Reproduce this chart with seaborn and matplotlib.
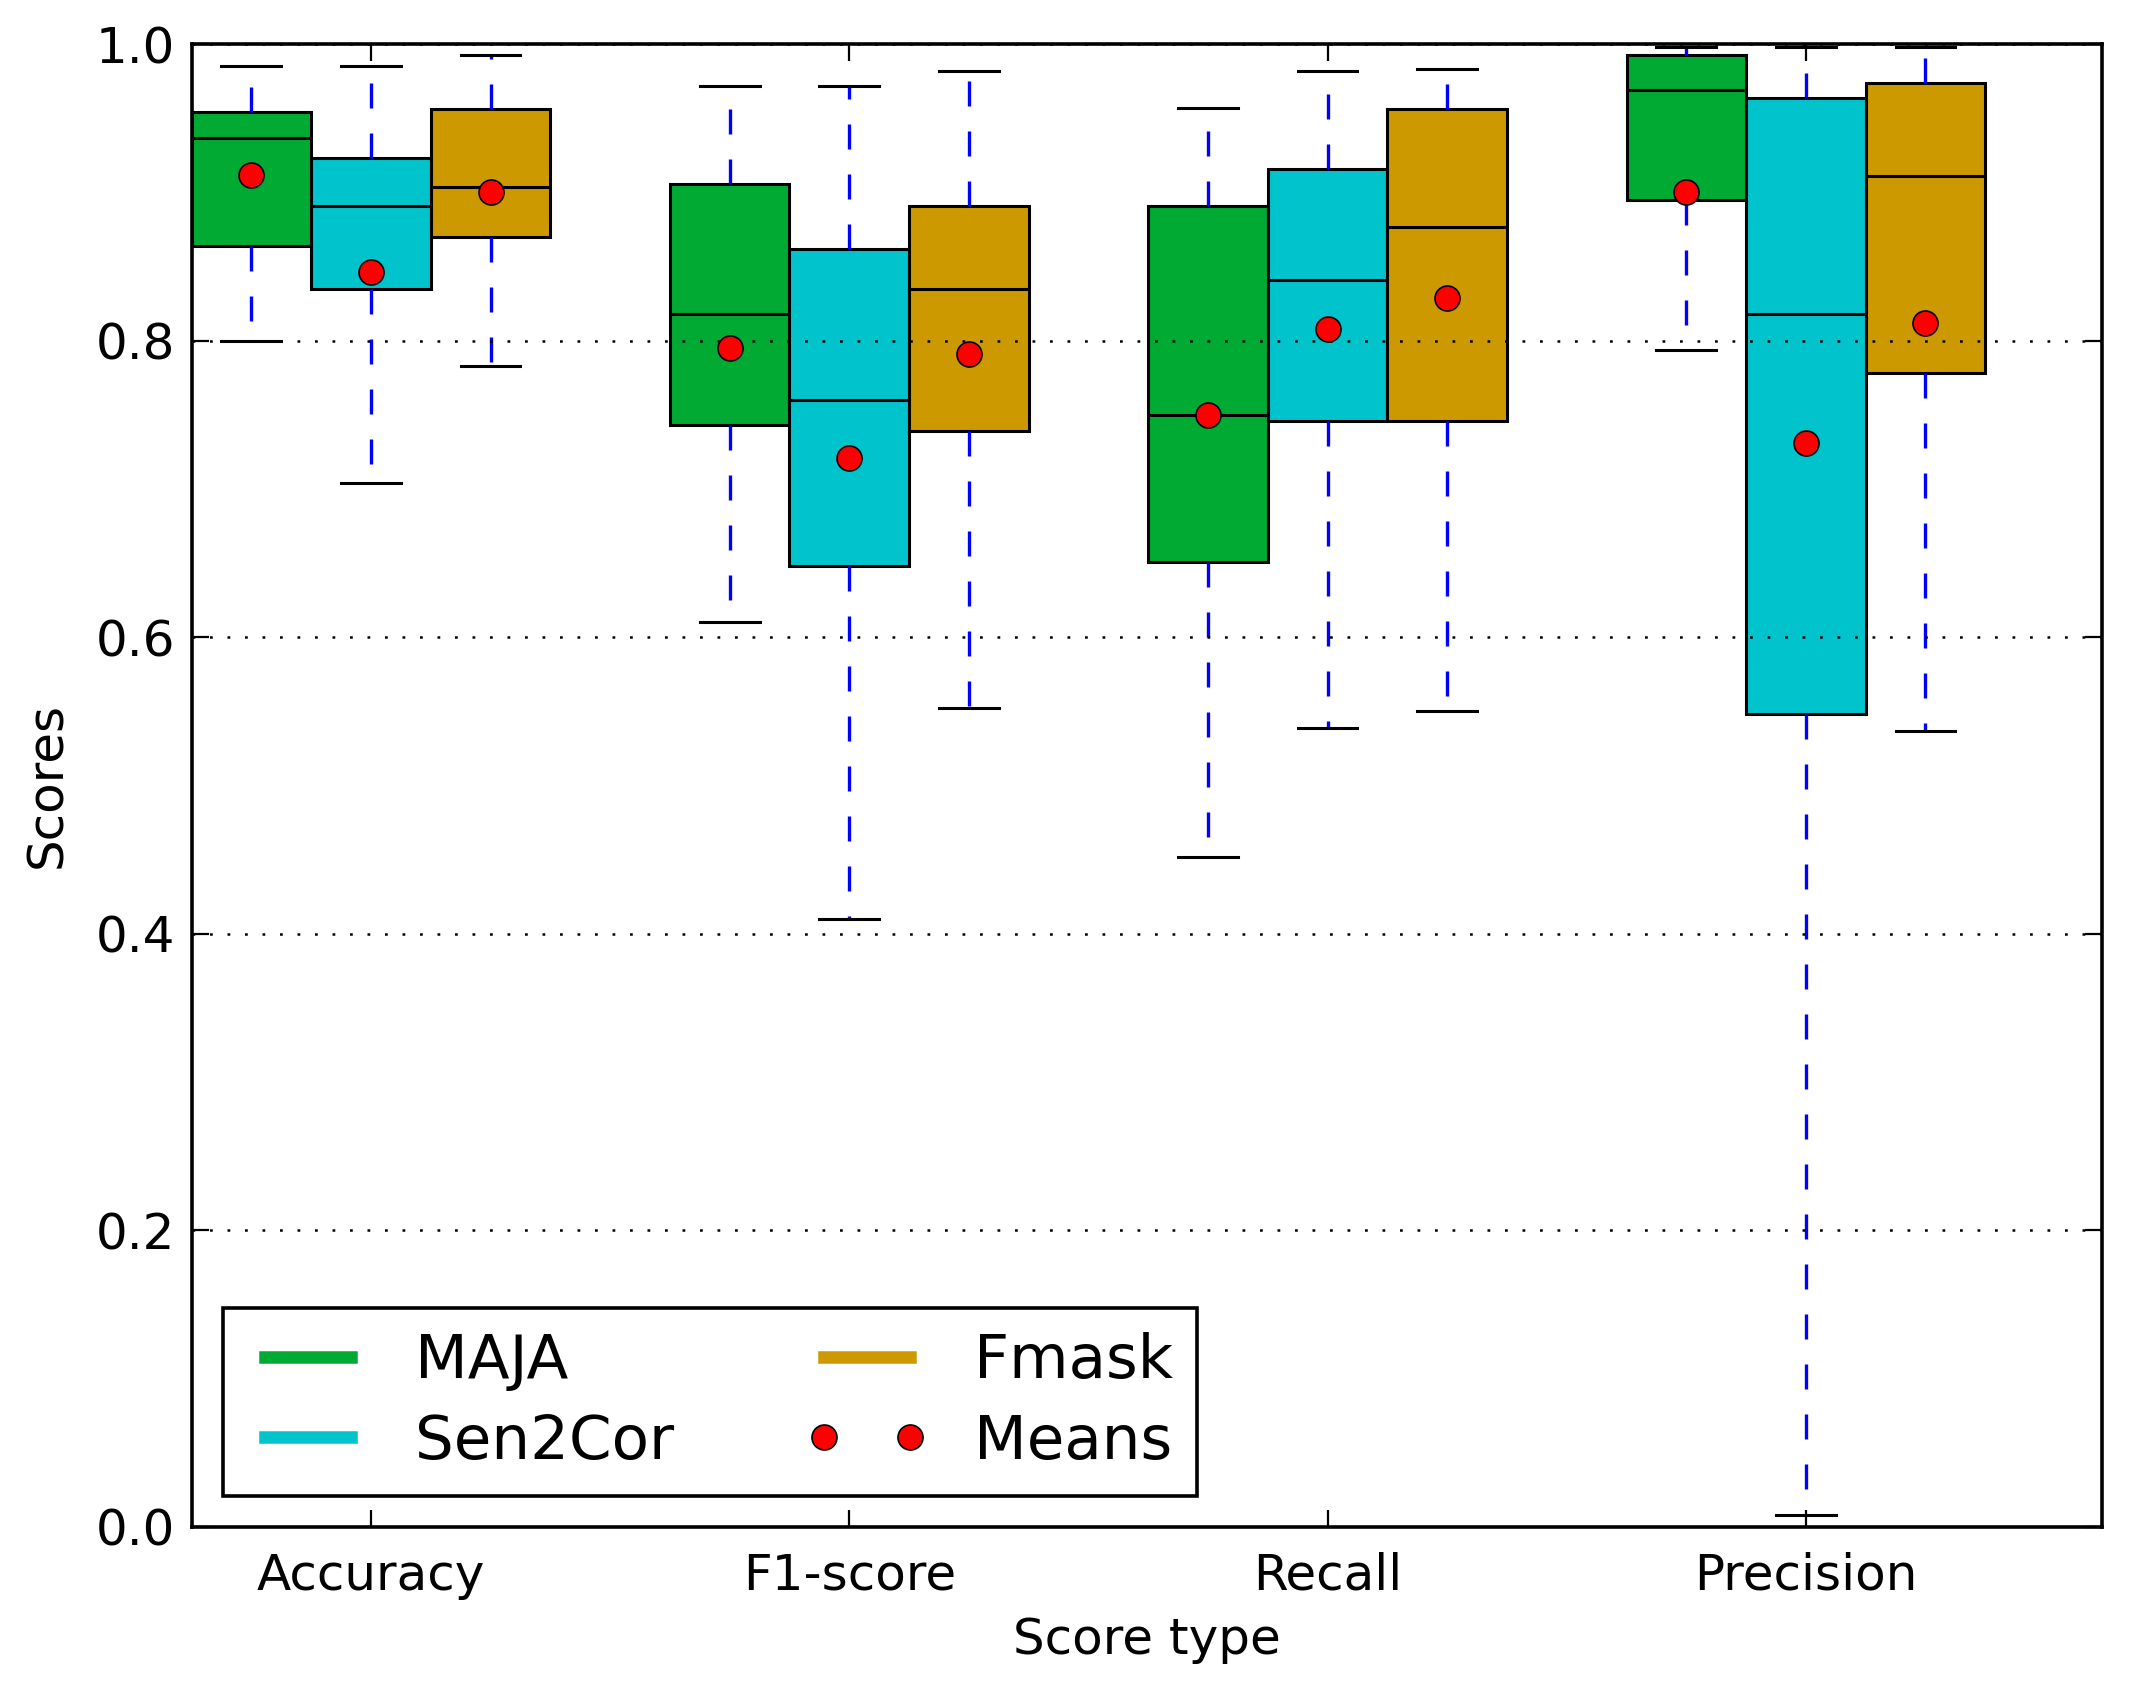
import numpy as np
import pandas as pd
import matplotlib
matplotlib.use("Agg")
import matplotlib.pyplot as plt
from matplotlib.lines import Line2D
import seaborn as sns

# ---- data ----
score_types = ["Accuracy", "F1-score", "Recall", "Precision"]
methods = ["MAJA", "Sen2Cor", "Fmask"]
method_colors = ["#00aa33", "#00c3cc", "#cc9900"]

# five-number summary per score type: [low whisker, Q1, median, Q3, high whisker]
maja_box = [[0.800, 0.864, 0.937, 0.954, 0.985],
            [0.610, 0.743, 0.818, 0.906, 0.972],
            [0.452, 0.651, 0.750, 0.891, 0.957],
            [0.794, 0.895, 0.969, 0.993, 0.998]]
sen2cor_box = [[0.704, 0.835, 0.891, 0.923, 0.985],
               [0.410, 0.648, 0.760, 0.862, 0.972],
               [0.539, 0.746, 0.841, 0.916, 0.982],
               [0.008, 0.548, 0.818, 0.964, 0.998]]
fmask_box = [[0.783, 0.870, 0.904, 0.956, 0.993],
             [0.552, 0.739, 0.835, 0.891, 0.982],
             [0.550, 0.746, 0.877, 0.956, 0.983],
             [0.537, 0.778, 0.911, 0.974, 0.998]]

# mean markers (red dots)
maja_mean = [0.912, 0.795, 0.750, 0.900]
sen2cor_mean = [0.846, 0.721, 0.808, 0.731]
fmask_mean = [0.900, 0.791, 0.829, 0.812]

y_ticks = [0.0, 0.2, 0.4, 0.6, 0.8, 1.0]

# ---- build long tables for seaborn ----
rows, mean_rows = [], []
for m, boxes, means in zip(methods, [maja_box, sen2cor_box, fmask_box],
                           [maja_mean, sen2cor_mean, fmask_mean]):
    for s, vals, mu in zip(score_types, boxes, means):
        for v in vals:
            rows.append({"score": s, "method": m, "value": v})
        mean_rows.append({"score": s, "method": m, "mean": mu})
box_df = pd.DataFrame(rows)
mean_df = pd.DataFrame(mean_rows)

plt.rcParams["font.family"] = ["DejaVu Sans"]
plt.rcParams["lines.scale_dashes"] = False

fig, ax = plt.subplots(figsize=(10.705, 8.5), dpi=200)
fig.subplots_adjust(left=0.0897, right=0.982, bottom=0.102, top=0.974)

sns.boxplot(data=box_df, x="score", y="value", hue="method", order=score_types,
            hue_order=methods, palette=method_colors, whis=(0, 100), width=0.75,
            gap=0, saturation=1, linecolor="black", linewidth=1.1, showfliers=False,
            whiskerprops=dict(color="blue", linestyle=(0, (9, 9)), linewidth=1.2),
            legend=False, ax=ax)

sns.pointplot(data=mean_df, x="score", y="mean", hue="method", order=score_types,
              hue_order=methods, palette=["red"] * 3, dodge=0.5, linestyle="none",
              markers="o", errorbar=None, markersize=9, markeredgecolor="black",
              markeredgewidth=0.6, zorder=5, legend=False, ax=ax)

ax.set_xlim(-0.374, 3.62)
ax.set_ylim(0, 1.0)
ax.set_yticks(y_ticks)
ax.set_yticklabels(["%.1f" % t for t in y_ticks])
ax.yaxis.grid(True, linestyle=(0, (1, 5.3)), color="black", linewidth=0.9)
ax.xaxis.grid(False)
ax.set_axisbelow(False)
ax.set_facecolor("white")
for sp in ax.spines.values():
    sp.set_visible(True)
    sp.set_color("black")
    sp.set_linewidth(1.3)
ax.tick_params(direction="in", top=True, right=True, length=6, width=0.8,
               labelsize=18, colors="black")
ax.tick_params(axis="y", pad=6)
ax.tick_params(axis="x", pad=9)
ax.set_xlabel("Score type", fontsize=18, labelpad=6)
ax.set_ylabel("Scores", fontsize=18, labelpad=9)

handles = [Line2D([], [], color=method_colors[0], lw=4.5),
           Line2D([], [], color=method_colors[1], lw=4.5),
           Line2D([], [], color=method_colors[2], lw=4.5),
           Line2D([], [], color="red", marker="o", linestyle="none", markersize=9,
                  markeredgecolor="black", markeredgewidth=0.6)]
leg = ax.legend(handles, ["MAJA", "Sen2Cor", "Fmask", "Means"], loc="lower left",
                ncol=2, numpoints=2, fontsize=22, frameon=True, fancybox=False,
                edgecolor="black", framealpha=1, handlelength=2.0, handletextpad=0.75,
                columnspacing=2.15, labelspacing=0.35, borderaxespad=0.5)
leg.get_frame().set_linewidth(1.3)

fig.savefig("out.png", dpi=200, facecolor="white")
